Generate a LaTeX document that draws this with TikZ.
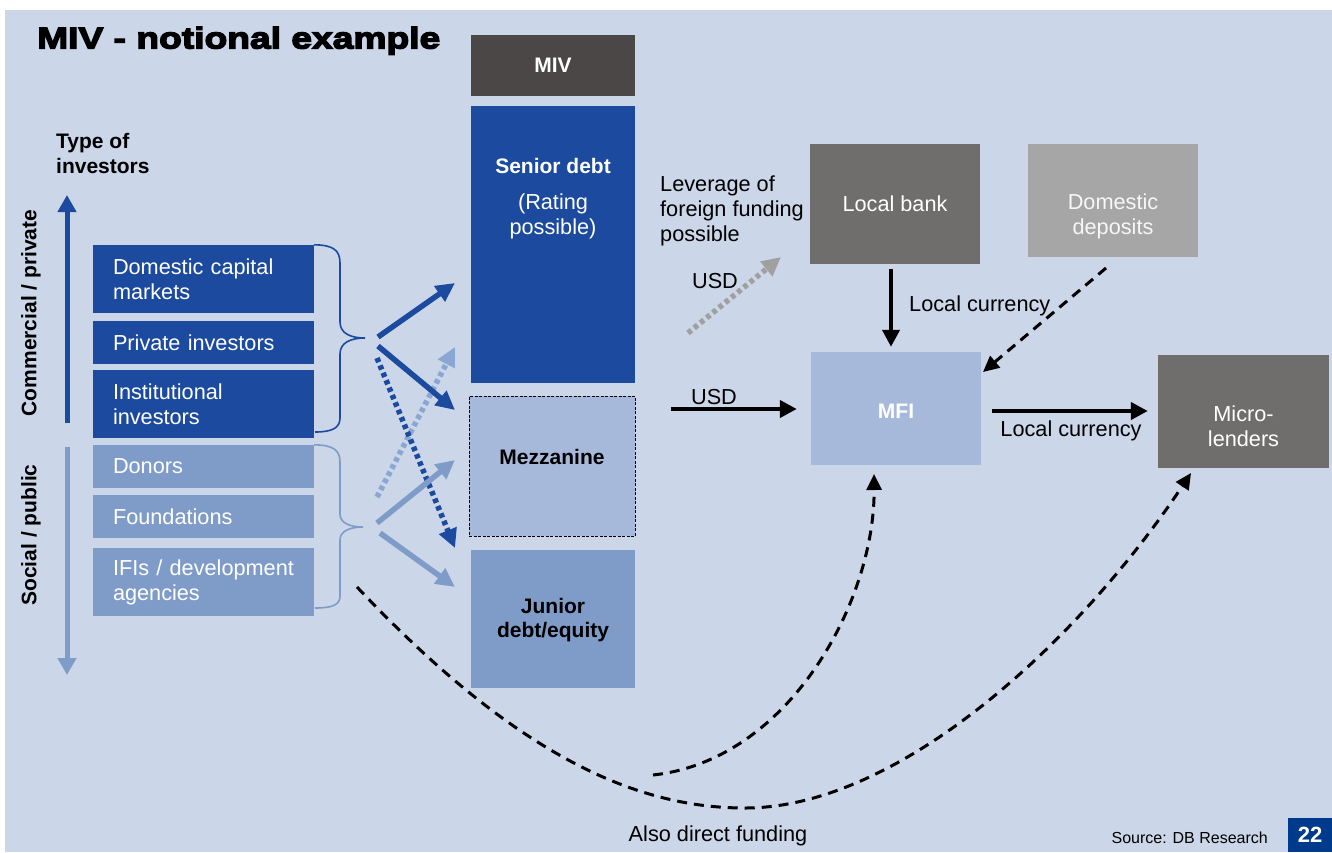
\documentclass[tikz,border=0pt]{standalone}
\usepackage{fontspec}
\setmainfont{Liberation Sans}
\newfontfamily\titlefont{Liberation Sans Bold}[FakeStretch=1.24,FakeBold=4.5]
\usetikzlibrary{arrows.meta}
\definecolor{bgc}{HTML}{CBD6E8}
\definecolor{dblue}{HTML}{1C4A9F}
\definecolor{mblue}{HTML}{7F9CC9}
\definecolor{lblue}{HTML}{A6B9DB}
\definecolor{dgray}{HTML}{4B4747}
\definecolor{mgray}{HTML}{706E6C}
\definecolor{lgray}{HTML}{A6A6A6}
\definecolor{dotgray}{HTML}{A0A0A0}
\definecolor{dotblue}{HTML}{8AA6D3}
\definecolor{pblue}{HTML}{003A8C}
\tikzset{
  blk/.style={inner sep=0pt, draw=none},
  lbox/.style={inner xsep=20pt, inner ysep=0pt, text width=181pt, align=left, text=white,
    minimum height=#1, font=\fontsize{21.7}{25}\selectfont},
  txt/.style={inner sep=0pt, align=center, font=\fontsize{21.7}{25}\selectfont},
  btxt/.style={inner sep=0pt, align=center, font=\fontsize{21}{24}\selectfont\bfseries},
  bar/.style={line width=5.5pt, -{Triangle[length=19pt,width=18pt]}},
  dotbar/.style={line width=5.5pt, dash pattern=on 4.5pt off 3.5pt, -{Triangle[length=19pt,width=18pt]}},
  flow/.style={line width=4pt, black, -{Triangle[length=17pt,width=17pt]}},
  dflow/.style={line width=3pt, black, dash pattern=on 10pt off 7pt, -{Triangle[length=16pt,width=15pt]}},
  brc/.style={line width=1.6pt},
  axis/.style={line width=5pt, -{Triangle[length=17pt,width=18pt]}}
}
\begin{document}
\begin{tikzpicture}[x=1pt,y=-1pt]
\useasboundingbox (0,0) rectangle (1332,852);
\fill[bgc] (5,10) rectangle (1332,852);

% title
\node[anchor=base west, inner sep=0pt, font=\titlefont\bfseries\fontsize{30}{30}\selectfont] (title) at (37,48.5) {MIV - notional example};

% type of investors
\node[anchor=north west, inner sep=0pt, align=left, font=\fontsize{21}{25}\selectfont\bfseries] (tinv) at (56,133) {Type of\\investors};

% axis arrows
\coordinate (ax1s) at (67,423);
\coordinate (ax1e) at (67,195);
\coordinate (ax2s) at (67,447);
\coordinate (ax2e) at (67,675);
\draw[axis, dblue] (ax1s) -- (ax1e);
\draw[axis, mblue] (ax2s) -- (ax2e);
\node[btxt, rotate=90] (comm) at (31,313) {Commercial / private};
\node[btxt, rotate=90] (soc) at (31,535) {Social / public};

% investor boxes
\node[lbox=68pt, fill=dblue] (dcm) at (203.5,279) {Domestic capital\\markets};
\node[lbox=43pt, fill=dblue] (pi) at (203.5,342.5) {Private investors};
\node[lbox=68pt, fill=dblue] (ii) at (203.5,404) {Institutional\\investors};
\node[lbox=43pt, fill=mblue] (don) at (203.5,466.5) {Donors};
\node[lbox=43pt, fill=mblue] (fou) at (203.5,516.5) {Foundations};
\node[lbox=68pt, fill=mblue] (ifi) at (203.5,582) {IFIs / development\\agencies};

% braces
\draw[brc, dblue] (dcm.north east) .. controls (333,245) and (340,250) .. (340,263) -- (340,322)
  .. controls (340,333) and (350,338) .. (365,338)
  .. controls (350,338) and (340,343) .. (340,354) -- (340,418)
  .. controls (340,428) and (332,432) .. (315,432);
\draw[brc, mblue] (don.north east) .. controls (333,445) and (340,450) .. (340,462) -- (340,514)
  .. controls (340,523) and (350,527) .. (363,527)
  .. controls (350,527) and (340,531) .. (340,540) -- (340,596)
  .. controls (340,605) and (332,608) .. (315,608);

% MIV stack
\node[blk, fill=dgray, minimum width=164pt, minimum height=61pt] (miv) at (553,65.5) {};
\node[btxt, text=white] (mivt) at (miv) {MIV};
\node[blk, fill=dblue, minimum width=164pt, minimum height=277pt] (sen) at (553,244.5) {};
\node[btxt, text=white] (sent) at (553,166) {Senior debt};
\node[txt, text=white] (rat) at (553,216.5) {(Rating\\possible)};
\node[blk, fill=lblue, draw=black, line width=0.8pt, dash pattern=on 3pt off 1.5pt, minimum width=166pt, minimum height=140pt] (mez) at (552,466) {};
\node[btxt] (mezt) at (552,457) {Mezzanine};
\node[blk, fill=mblue, minimum width=164pt, minimum height=138pt] (jun) at (553,619) {};
\node[btxt] (junt) at (553,620) {Junior\\debt/equity};

% allocation arrows
\coordinate (a1s) at (378,337); \coordinate (a1e) at (455,283);
\coordinate (a2s) at (378,346); \coordinate (a2e) at (455,410);
\coordinate (a3s) at (377,358); \coordinate (a3e) at (455,548);
\coordinate (b1s) at (377,497); \coordinate (b1e) at (455,347);
\coordinate (b2s) at (377,523); \coordinate (b2e) at (455,460);
\coordinate (b3s) at (380,533); \coordinate (b3e) at (455,587);
\draw[dotbar, dotblue] (b1s) -- (b1e);
\draw[bar, dblue] (a1s) -- (a1e);
\draw[bar, dblue] (a2s) -- (a2e);
\draw[dotbar, dblue] (a3s) -- (a3e);
\draw[bar, mblue] (b2s) -- (b2e);
\draw[bar, mblue] (b3s) -- (b3e);

% right side boxes
\node[blk, fill=mgray, minimum width=170pt, minimum height=120pt] (lb) at (895,204) {};
\node[txt, text=white] (lbt) at (lb) {Local bank};
\node[blk, fill=lgray, minimum width=170pt, minimum height=113pt] (dd) at (1113,200.5) {};
\node[txt, text=white!94!gray] (ddt) at (1113,216.5) {Domestic\\deposits};
\node[blk, fill=lblue, minimum width=170pt, minimum height=113pt] (mfi) at (896,408.5) {};
\node[btxt, text=white] (mfit) at (896,411) {MFI};
\node[blk, fill=mgray, minimum width=171pt, minimum height=113pt] (ml) at (1243.5,411.5) {};
\node[txt, text=white] (mlt) at (1243.5,426.5) {Micro-\\lenders};

\node[anchor=north west, inner sep=0pt, align=left, font=\fontsize{21.7}{25}\selectfont] (lev) at (660,176) {Leverage of\\foreign funding\\possible};

% USD dotted gray
\coordinate (g1s) at (688,333); \coordinate (g1e) at (781,257);
\draw[dotbar, dotgray] (g1s) -- (g1e);
\node[txt] (usd1) at (715,281) {USD};

% local bank -> MFI
\draw[flow, shorten <=5pt, shorten >=5pt] (lb.south -| 891,0) -- (mfi.north -| 891,0);
\node[txt, anchor=west] (lc1) at (909,306) {Local currency};

% domestic deposits -> MFI dashed
\coordinate (dds) at (1106,268);
\coordinate (dde) at (983,372);
\draw[dflow] (dds) -- (dde);

% USD -> MFI
\coordinate (us) at (671,409);
\draw[flow, shorten >=14pt] (us) -- (mfi.west |- us);
\node[txt] (usd2) at (714,397) {USD};

% MFI -> Micro-lenders
\draw[flow, shorten <=11pt, shorten >=10pt] (mfi.east |- 0,411) -- (ml.west |- 0,411);
\node[txt] (lc2) at (1071,431) {Local currency};

% direct funding dashed curves
\coordinate (c1s) at (357,587);
\coordinate (c1m) at (745,808);
\coordinate (c1e) at (1191,473);
\draw[dflow] (c1s) .. controls (520,760) and (640,808) .. (c1m) .. controls (900,808) and (1080,640) .. (c1e);
\coordinate (c2s) at (653,775);
\coordinate (c2e) at (874,474);
\draw[dflow] (c2s) .. controls (790,760) and (875,600) .. (c2e);
\node[txt] (adf) at (718,836) {Also direct funding};

% footer
\node[anchor=east, inner sep=0pt, font=\fontsize{16}{18}\selectfont] (src) at (1268,838) {Source: DB Research};
\node[blk, fill=pblue, minimum width=44pt, minimum height=34pt, text=white, font=\fontsize{22}{24}\selectfont\bfseries] (pg) at (1310,835) {22};
\end{tikzpicture}
\end{document}
